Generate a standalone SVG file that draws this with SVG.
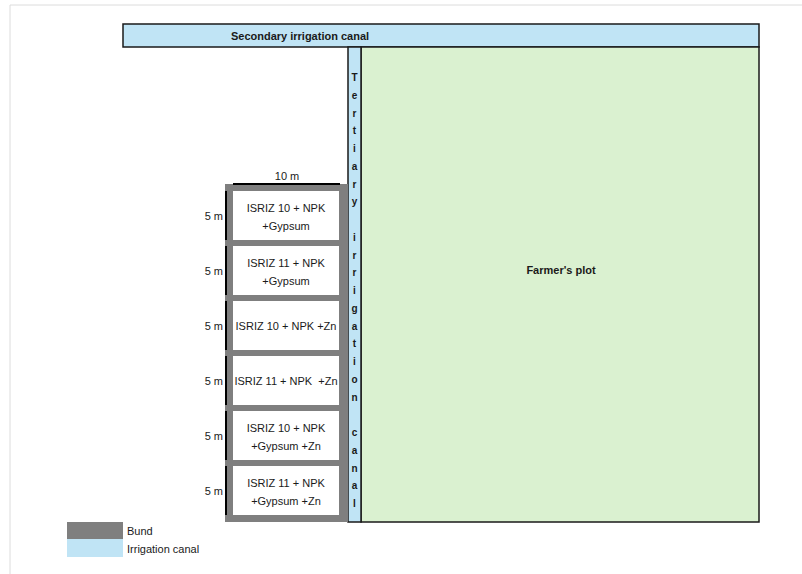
<svg xmlns="http://www.w3.org/2000/svg" width="802" height="574" viewBox="0 0 802 574">
<style>
text{font-family:"Liberation Sans",Arial,sans-serif;fill:#1a1a1a}
.b{font-weight:bold;font-size:11px}
.c{font-size:11px;text-anchor:middle}
.d{font-size:11px;text-anchor:end}
.canal{fill:#c0e4f5;stroke:#1a1a1a;stroke-width:1.5}
.cell{fill:#ffffff}
.dim{stroke:#000;stroke-width:2}
.tl{font-weight:bold;font-size:10px;text-anchor:middle}
</style>
<rect width="802" height="574" fill="#ffffff"/>
<path d="M10 5H802M10 5V574" stroke="#dcdcdc" stroke-width="1" fill="none"/>
<g id="secondary-canal">
<rect class="canal" x="123" y="24" width="636" height="23"/>
<text class="b" x="300" y="40" text-anchor="middle" font-size="11.3">Secondary irrigation canal</text>
</g>
<g id="farmers-plot">
<rect x="361" y="47" width="398" height="475" fill="#daf1d0" stroke="#1a1a1a" stroke-width="1.5"/>
<text class="b" x="561" y="274" text-anchor="middle">Farmer's plot</text>
</g>
<g id="tertiary-canal">
<rect class="canal" x="348" y="47" width="13" height="475"/>
<text class="tl" x="354.5" y="81">T</text>
<text class="tl" x="354.5" y="98.8">e</text>
<text class="tl" x="354.5" y="116.5">r</text>
<text class="tl" x="354.5" y="134.3">t</text>
<text class="tl" x="354.5" y="152">i</text>
<text class="tl" x="354.5" y="169.8">a</text>
<text class="tl" x="354.5" y="187.5">r</text>
<text class="tl" x="354.5" y="205.3">y</text>
<text class="tl" x="354.5" y="240.8">i</text>
<text class="tl" x="354.5" y="258.5">r</text>
<text class="tl" x="354.5" y="276.3">r</text>
<text class="tl" x="354.5" y="294">i</text>
<text class="tl" x="354.5" y="311.8">g</text>
<text class="tl" x="354.5" y="329.5">a</text>
<text class="tl" x="354.5" y="347.3">t</text>
<text class="tl" x="354.5" y="365">i</text>
<text class="tl" x="354.5" y="382.8">o</text>
<text class="tl" x="354.5" y="400.5">n</text>
<text class="tl" x="354.5" y="436">c</text>
<text class="tl" x="354.5" y="453.8">a</text>
<text class="tl" x="354.5" y="471.5">n</text>
<text class="tl" x="354.5" y="489.3">a</text>
<text class="tl" x="354.5" y="507">l</text>
</g>
<g id="bund">
<rect x="225" y="184" width="123" height="338" fill="#7f7f7f"/>
</g>
<g id="plot-1">
<rect class="cell" x="233" y="191" width="106" height="49"/>
<text class="c" x="286" y="211.5">ISRIZ 10 + NPK</text>
<text class="c" x="286" y="229.5">+Gypsum</text>
</g>
<g id="plot-2">
<rect class="cell" x="233" y="246" width="106" height="49"/>
<text class="c" x="286" y="266.5">ISRIZ 11 + NPK</text>
<text class="c" x="286" y="284.5">+Gypsum</text>
</g>
<g id="plot-3">
<rect class="cell" x="233" y="301" width="106" height="49"/>
<text class="c" x="286" y="329.5">ISRIZ 10 + NPK +Zn</text>
</g>
<g id="plot-4">
<rect class="cell" x="233" y="356" width="106" height="49"/>
<text class="c" x="286" y="384.5" xml:space="preserve">ISRIZ 11 + NPK  +Zn</text>
</g>
<g id="plot-5">
<rect class="cell" x="233" y="411" width="106" height="49"/>
<text class="c" x="286" y="431.5">ISRIZ 10 + NPK</text>
<text class="c" x="286" y="449.5">+Gypsum +Zn</text>
</g>
<g id="plot-6">
<rect class="cell" x="233" y="466" width="106" height="49"/>
<text class="c" x="286" y="486.5">ISRIZ 11 + NPK</text>
<text class="c" x="286" y="504.5">+Gypsum +Zn</text>
</g>
<g id="dimensions">
<line class="dim" x1="233" y1="184" x2="340" y2="184"/>
<text class="c" x="287" y="180">10 m</text>
<line class="dim" x1="226" y1="191" x2="226" y2="240"/>
<line class="dim" x1="226" y1="246" x2="226" y2="295"/>
<line class="dim" x1="226" y1="301" x2="226" y2="350"/>
<line class="dim" x1="226" y1="356" x2="226" y2="405"/>
<line class="dim" x1="226" y1="411" x2="226" y2="460"/>
<line class="dim" x1="226" y1="466" x2="226" y2="515"/>
<text class="d" x="223" y="220">5 m</text>
<text class="d" x="223" y="275">5 m</text>
<text class="d" x="223" y="330">5 m</text>
<text class="d" x="223" y="385">5 m</text>
<text class="d" x="223" y="440">5 m</text>
<text class="d" x="223" y="495">5 m</text>
</g>
<g id="legend">
<rect x="67" y="522" width="56" height="17" fill="#7f7f7f"/>
<rect x="67" y="539" width="56" height="18" fill="#c0e4f5"/>
<text x="127" y="535" font-size="11">Bund</text>
<text x="127" y="553" font-size="11">Irrigation canal</text>
</g>
</svg>
